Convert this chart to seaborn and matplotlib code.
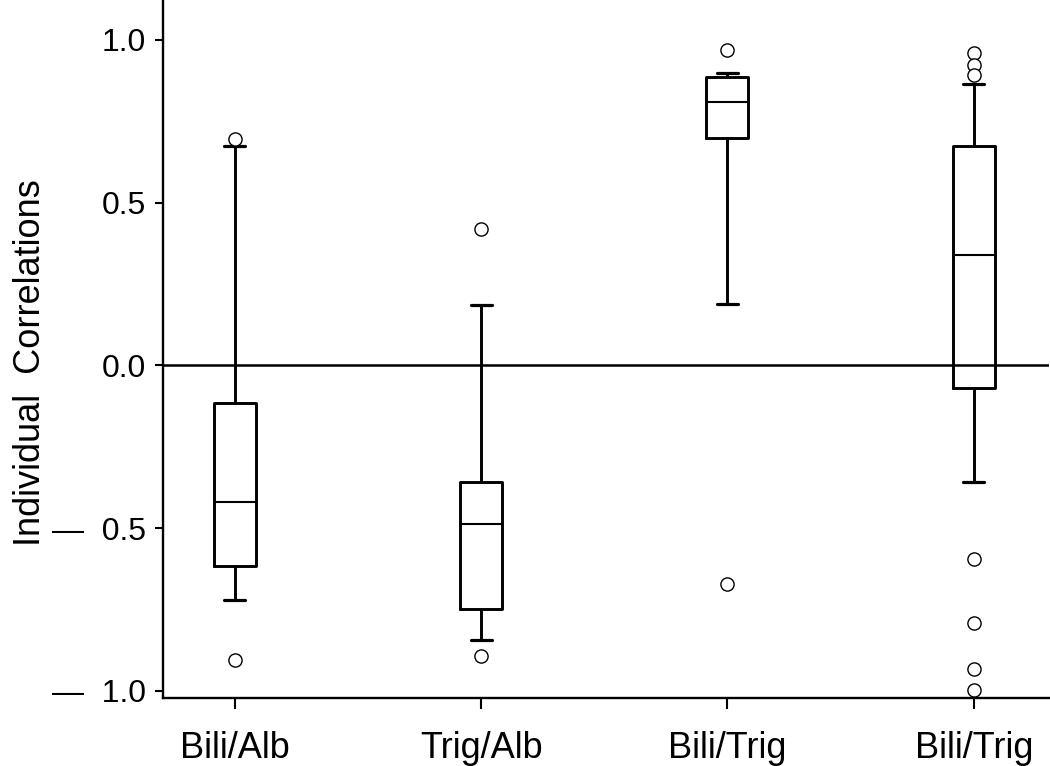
import matplotlib
matplotlib.use("Agg")
import matplotlib.pyplot as plt
import seaborn as sns

# ------------------------------
# Values
# ------------------------------
groups = ["Bili/Alb", "Trig/Alb", "Bili/Trig", "Bili/Trig"]
whisker_low = [-0.722, -0.843, 0.188, -0.357]
q1 = [-0.617, -0.747, 0.697, -0.069]
median = [-0.419, -0.487, 0.808, 0.340]
q3 = [-0.116, -0.357, 0.885, 0.675]
whisker_high = [0.674, 0.184, 0.897, 0.865]
outliers = [
    [0.694, -0.905],
    [0.418, -0.892],
    [0.969, -0.671],
    [0.958, 0.922, 0.892, -0.594, -0.790, -0.932, -0.996],
]
ytick_values = [-1.0, -0.5, 0.0, 0.5, 1.0]
ytick_labels = ["\u2014  1.0", "\u2014  0.5", "0.0", "0.5", "1.0"]

# ------------------------------
# Style
# ------------------------------
sns.set_theme(style="ticks")
plt.rcParams["font.family"] = ["Liberation Sans", "DejaVu Sans"]

fig = plt.figure(figsize=(10.5, 7.66), dpi=100)
ax = fig.add_axes([0.155, 0.089, 0.844, 0.911])

# ------------------------------
# Boxes from the five-number summaries
# ------------------------------
stats = []
for i in range(len(groups)):
    stats.append({
        "label": groups[i],
        "whislo": whisker_low[i],
        "q1": q1[i],
        "med": median[i],
        "q3": q3[i],
        "whishi": whisker_high[i],
        "fliers": outliers[i],
    })

ax.bxp(
    stats,
    positions=range(1, len(groups) + 1),
    widths=0.17,
    showfliers=True,
    boxprops=dict(color="black", linewidth=2.1),
    whiskerprops=dict(color="black", linewidth=2.1),
    capprops=dict(color="black", linewidth=2.3),
    medianprops=dict(color="black", linewidth=1.5),
    flierprops=dict(marker="o", markerfacecolor="white", markeredgecolor="black",
                    markersize=9.5, markeredgewidth=1.0),
)

ax.axhline(0, color="black", linewidth=1.8, zorder=0)

ax.set_xlim(0.708, 4.305)
ax.set_ylim(-1.021, 1.122)
ax.set_yticks(ytick_values)
ax.set_yticklabels(ytick_labels)
ax.set_xticks(range(1, len(groups) + 1))
ax.set_xticklabels(groups)

ax.tick_params(axis="y", labelsize=23, length=6, width=1.5, pad=6, colors="black")
ax.tick_params(axis="x", labelsize=26, length=8, width=1.5, pad=16, colors="black")
for side in ["left", "bottom"]:
    ax.spines[side].set_linewidth(1.7)
    ax.spines[side].set_color("black")
sns.despine(ax=ax)

ax.set_ylabel("Individual  Correlations", fontsize=26, color="black")
ax.yaxis.set_label_coords(-0.13, 0.48)

fig.savefig("out.png", dpi=100, facecolor="white")
